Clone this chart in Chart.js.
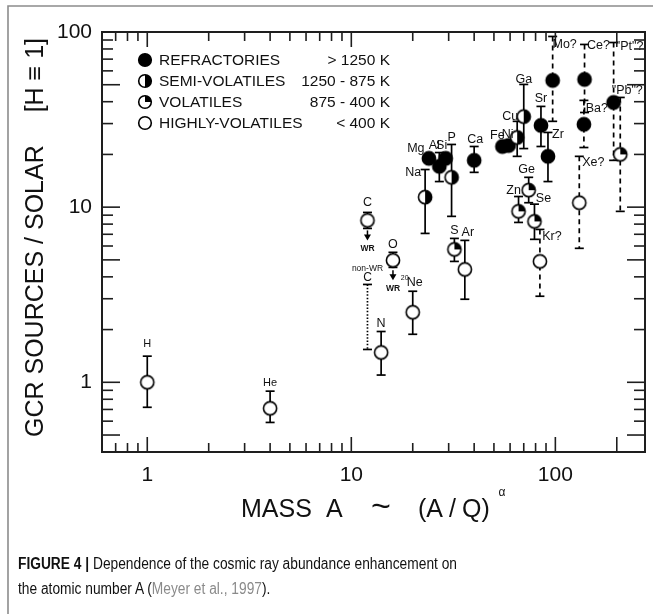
<!DOCTYPE html>
<html>
<head>
<meta charset="utf-8">
<script src="https://cdn.jsdelivr.net/npm/chart.js@4/dist/chart.umd.min.js"></script>
<style>
  html, body { margin: 0; padding: 0; background: #fff; }
  #wrap { position: relative; width: 653px; height: 614px; overflow: hidden; background: #fff; }
  #c { position: absolute; left: 0; top: 0; }
  #caption {
    position: absolute; left: 18px; top: 551px;
    font-family: 'Liberation Sans', Arial, sans-serif; font-size: 16px; line-height: 25px;
    color: #111; white-space: nowrap; transform-origin: 0 0;
  }
  #caption div { display: block; }
  #cap1 { display: inline-block !important; }
  .ref { color: #8a8a8a; }
</style>
</head>
<body>
<div id="wrap">
  <canvas id="c" width="653" height="614"></canvas>
  <div id="caption">
    <div id="cap1"><b>FIGURE 4 |</b> Dependence of the cosmic ray abundance enhancement on</div>
    <div>the atomic number A (<span class="ref">Meyer et al., 1997</span>).</div>
  </div>
</div>
<script>
// GCR source / solar abundance ratio (normalised to H) versus mass number A
const elementNames = ['H','He','C','N','O','Ne','Na','Mg','Al','Si','P','S','Ar','Ca','Fe','Ni','Cu','Ga','Zn','Ge','Se','Kr','Sr','Zr','Mo','Xe','Ce','Ba','Pt','Pb'];
const elementLabels = ['H','He','C','N','O','Ne','Na','Mg','Al','Si','P','S','Ar','Ca','Fe','Ni','Cu','Ga','Zn','Ge','Se','Kr?','Sr','Zr','Mo?','Xe?','Ce?','Ba?','"Pt"?','"Pb"?'];
const massNumber  = [1, 4, 12, 14, 16, 20, 23, 24, 27, 29, 31, 32, 36, 40, 55, 59, 65, 70, 66, 74, 79, 84, 85, 92, 97, 131, 139, 138, 193, 208];
const enhancement = [1.0, 0.71, 8.4, 1.48, 4.97, 2.51, 11.4, 19.0, 17.1, 19.0, 14.8, 5.74, 4.41, 18.5, 22.2, 22.5, 25.0, 32.9, 9.46, 12.5, 8.29, 4.9, 29.3, 19.5, 52.9, 10.6, 53.6, 29.7, 39.6, 20.0];
const lowerBound  = [0.72, 0.59, 7.56, 1.10, 4.53, 1.88, 7.08, null, 14.0, null, 8.86, 4.90, 2.98, 15.8, null, null, 19.5, 21.6, 8.18, 10.6, 6.55, 3.10, 22.2, 14.0, 30.9, 5.82, 34.7, 21.9, 18.5, 9.46];
const upperBound  = [1.41, 0.89, 9.33, 1.95, 5.52, 3.31, 16.4, null, 20.5, null, 22.8, 6.63, 6.46, 22.2, null, null, 30.9, 50.2, 11.5, 14.8, 10.4, 7.46, 37.6, 26.7, 94.3, 19.5, 84.9, 40.7, 87.1, 42.3];
// 0 refractory, 1 semi-volatile, 2 volatile, 3 highly volatile
const volatilityClass = [3, 3, 3, 3, 3, 3, 1, 0, 0, 0, 1, 2, 3, 0, 0, 0, 1, 1, 2, 2, 2, 3, 0, 0, 0, 3, 0, 0, 0, 2];
// 1 = uncertain range (dashed)
const uncertainRange = [0, 0, 0, 0, 0, 0, 0, 0, 0, 0, 0, 0, 0, 0, 0, 0, 0, 0, 0, 0, 0, 1, 0, 0, 1, 1, 1, 1, 1, 1];

// carbon from non-Wolf-Rayet sources: range only
const nonWrCarbonMass = 12;
const nonWrCarbonLow = 1.54;
const nonWrCarbonHigh = 3.62;

const classNames = ['REFRACTORIES', 'SEMI-VOLATILES', 'VOLATILES', 'HIGHLY-VOLATILES'];
const classRanges = ['> 1250 K', '1250 - 875 K', '875 - 400 K', '< 400 K'];
const xTickLabels = [1, 10, 100];
const yTickLabels = [1, 10, 100];

// label placement around each marker (pixels)
const labelOffsets = [[0,-38],[0,-25],[0,-18],[0,-29],[0,-16],[2,-30],[-12,-25],[-13,-10],[-5,-21],[-4,-13],[0,-40],[0,-19],[3,-37],[1,-21],[-5,-11],[-1,-11],[-7,-21],[0,-37],[-5,-21],[-2,-21],[9,-23],[12,-25],[0,-27],[10,-22],[12,-36],[14,-40],[14,-34],[13,-16],[16,-56],[7,-64]];

const FONT = "'Liberation Sans', Arial, sans-serif";
const INK = '#111';

function drawMarker(ctx, cx, cy, r, kind) {
  ctx.save();
  ctx.beginPath(); ctx.arc(cx, cy, r, 0, 2 * Math.PI);
  ctx.fillStyle = '#fff'; ctx.fill();
  ctx.fillStyle = '#000';
  if (kind === 0) {
    ctx.beginPath(); ctx.arc(cx, cy, r, 0, 2 * Math.PI); ctx.fill();
  } else if (kind === 1) {
    ctx.beginPath(); ctx.moveTo(cx, cy - r); ctx.arc(cx, cy, r, -Math.PI / 2, Math.PI / 2); ctx.closePath(); ctx.fill();
  } else if (kind === 2) {
    ctx.beginPath(); ctx.moveTo(cx, cy); ctx.arc(cx, cy, r, -Math.PI / 2, 0); ctx.closePath(); ctx.fill();
  }
  ctx.beginPath(); ctx.arc(cx, cy, r, 0, 2 * Math.PI);
  ctx.lineWidth = 1.6; ctx.strokeStyle = '#000'; ctx.stroke();
  ctx.restore();
}

function markerImage(kind) {
  const cv = document.createElement('canvas');
  cv.width = 18; cv.height = 18;
  drawMarker(cv.getContext('2d'), 9, 9, 6.6, kind);
  return cv;
}
const markerImages = [0, 1, 2, 3].map(markerImage);

const datasets = [3, 2, 1, 0].map(k => ({
  label: classNames[k],
  data: massNumber.map((m, i) => ({ x: m, y: enhancement[i], idx: i })).filter(p => volatilityClass[p.idx] === k),
  pointStyle: markerImages[k],
  pointRadius: 7
}));

function seg(ctx, x1, y1, x2, y2) {
  ctx.beginPath(); ctx.moveTo(x1, y1); ctx.lineTo(x2, y2); ctx.stroke();
}

function rangeBar(ctx, px, yHi, yLo, dash) {
  ctx.save();
  ctx.strokeStyle = '#000'; ctx.lineWidth = 1.7;
  ctx.setLineDash(dash);
  seg(ctx, px, yHi, px, yLo);
  ctx.setLineDash([]);
  seg(ctx, px - 4.5, yHi, px + 4.5, yHi);
  seg(ctx, px - 4.5, yLo, px + 4.5, yLo);
  ctx.restore();
}

const errorBars = {
  id: 'errorBars',
  beforeDatasetsDraw(chart) {
    const { ctx, scales: { x, y } } = chart;
    massNumber.forEach((m, i) => {
      if (lowerBound[i] == null) return;
      const px = x.getPixelForValue(m);
      rangeBar(ctx, px, y.getPixelForValue(upperBound[i]), y.getPixelForValue(lowerBound[i]), uncertainRange[i] ? [5, 4] : []);
    });
    // non-WR carbon range
    const cx = x.getPixelForValue(nonWrCarbonMass);
    const top = y.getPixelForValue(nonWrCarbonHigh);
    rangeBar(ctx, cx, top, y.getPixelForValue(nonWrCarbonLow), [1.5, 1.8]);
  }
};

function downArrow(ctx, px, y0, y1) {
  ctx.save();
  ctx.strokeStyle = '#000'; ctx.fillStyle = '#000'; ctx.lineWidth = 1.5;
  seg(ctx, px, y0, px, y1 - 5);
  ctx.beginPath(); ctx.moveTo(px - 3.5, y1 - 6); ctx.lineTo(px + 3.5, y1 - 6); ctx.lineTo(px, y1); ctx.closePath(); ctx.fill();
  ctx.restore();
}

const decorations = {
  id: 'decorations',
  afterDraw(chart) {
    const { ctx, chartArea: a, scales: { x, y } } = chart;
    ctx.save();

    // page frame
    ctx.strokeStyle = '#8c8c8c'; ctx.lineWidth = 1.6;
    ctx.beginPath(); ctx.moveTo(653, 6); ctx.lineTo(8, 6); ctx.lineTo(8, 614); ctx.stroke();

    // plot box
    ctx.strokeStyle = '#1e1e1e'; ctx.lineWidth = 2;
    ctx.strokeRect(a.left, a.top, a.right - a.left, a.bottom - a.top);

    // inward ticks on all four sides
    ctx.lineWidth = 1.6;
    const xmin = x.min, xmax = x.max, ymin = y.min, ymax = y.max;
    for (const d of [0.1, 1, 10, 100]) {
      for (let k = 1; k <= 9; k++) {
        const v = d * k;
        if (v >= xmin && v <= xmax) {
          const px = x.getPixelForValue(v);
          const len = (k === 1 || v === 200) ? 15 : 9;
          seg(ctx, px, a.bottom, px, a.bottom - len);
          seg(ctx, px, a.top, px, a.top + len);
        }
        if (v >= ymin && v <= ymax * 1.0001) {
          const py = y.getPixelForValue(v);
          const len = (k === 1 || k === 5) ? 18 : 11;
          seg(ctx, a.left, py, a.left + len, py);
          seg(ctx, a.right, py, a.right - len, py);
        }
      }
    }

    // point labels
    ctx.fillStyle = INK;
    ctx.textAlign = 'center'; ctx.textBaseline = 'middle';
    massNumber.forEach((m, i) => {
      const px = x.getPixelForValue(m), py = y.getPixelForValue(enhancement[i]);
      const [dx, dy] = labelOffsets[i];
      ctx.font = (elementNames[i] === 'He' || elementNames[i] === 'H' ? '11px ' : '12.5px ') + FONT;
      ctx.fillText(elementLabels[i], px + dx, py + dy);
      if (elementNames[i] === 'Ne') {
        ctx.font = '7px ' + FONT;
        ctx.fillText('20', px + dx - 10, py + dy - 4);
      }
      if (elementNames[i] === 'C' || elementNames[i] === 'O') {
        downArrow(ctx, px, py + 10, py + 20);
        ctx.font = 'bold 8.5px ' + FONT;
        ctx.fillStyle = INK;
        ctx.fillText('WR', px, py + 28);
      }
    });

    // non-WR carbon labels
    const cx = x.getPixelForValue(nonWrCarbonMass);
    const ctop = y.getPixelForValue(nonWrCarbonHigh);
    ctx.font = '12px ' + FONT;
    ctx.fillText('C', cx, ctop - 7);
    ctx.font = '8.5px ' + FONT;
    ctx.fillText('non-WR', cx, ctop - 16);

    // legend
    const lx = a.left + 43, ly = a.top + 28, step = 21;
    classNames.forEach((name, k) => {
      const yy = ly + k * step;
      drawMarker(ctx, lx, yy, 6.3, k);
      ctx.fillStyle = INK;
      ctx.font = '15.5px ' + FONT;
      ctx.textBaseline = 'middle';
      ctx.textAlign = 'left';
      ctx.fillText(name, lx + 14, yy + 1);
      ctx.textAlign = 'right';
      ctx.fillText(classRanges[k], a.left + 288, yy + 1);
    });

    // x-axis title
    ctx.fillStyle = INK;
    ctx.textAlign = 'left'; ctx.textBaseline = 'alphabetic';
    ctx.font = '25px ' + FONT;
    ctx.fillText('MASS', 241, 517);
    ctx.fillText('A', 326, 517);
    ctx.fillText('(A', 418, 517);
    ctx.fillText('/', 449, 517);
    ctx.fillText('Q)', 462, 517);
    ctx.font = '34px ' + FONT;
    ctx.textAlign = 'center';
    ctx.fillText('~', 381, 517);
    ctx.font = '12px ' + FONT;
    ctx.fillText('α', 502, 496);

    // y-axis title
    ctx.save();
    ctx.translate(43, 437);
    ctx.rotate(-Math.PI / 2);
    ctx.font = '25px ' + FONT;
    ctx.textAlign = 'left';
    ctx.fillText('GCR SOURCES / SOLAR', 0, 0);
    ctx.textAlign = 'right';
    ctx.fillText('[H \u2261 1]', 437 - 38, 0);
    ctx.restore();

    ctx.restore();
  }
};

new Chart(document.getElementById('c'), {
  type: 'scatter',
  data: { datasets },
  options: {
    responsive: false,
    animation: false,
    events: [],
    devicePixelRatio: 1,
    layout: { padding: { top: 32, right: 8, left: 0, bottom: 0 } },
    plugins: { legend: { display: false }, tooltip: { enabled: false }, title: { display: false } },
    scales: {
      x: {
        type: 'logarithmic', position: 'bottom', min: 0.63, max: 275,
        grid: { display: false, drawTicks: false }, border: { display: false },
        ticks: { autoSkip: false, maxRotation: 0, padding: 11, color: INK, font: { family: FONT, size: 21 }, callback: v => String(v) },
        afterBuildTicks: s => { s.ticks = xTickLabels.map(v => ({ value: v })); },
        afterFit: s => { s.height = 162; }
      },
      y: {
        type: 'logarithmic', position: 'left', min: 0.4, max: 100,
        grid: { display: false, drawTicks: false }, border: { display: false },
        ticks: { autoSkip: false, padding: 10, color: INK, font: { family: FONT, size: 21 }, callback: v => String(v) },
        afterBuildTicks: s => { s.ticks = yTickLabels.map(v => ({ value: v })); },
        afterFit: s => { s.width = 102; }
      }
    }
  },
  plugins: [errorBars, decorations]
});

// fit the caption to its column width
const cap = document.getElementById('caption');
const w = document.getElementById('cap1').getBoundingClientRect().width;
cap.style.transform = 'scaleX(' + (439 / w).toFixed(4) + ')';
</script>
</body>
</html>
